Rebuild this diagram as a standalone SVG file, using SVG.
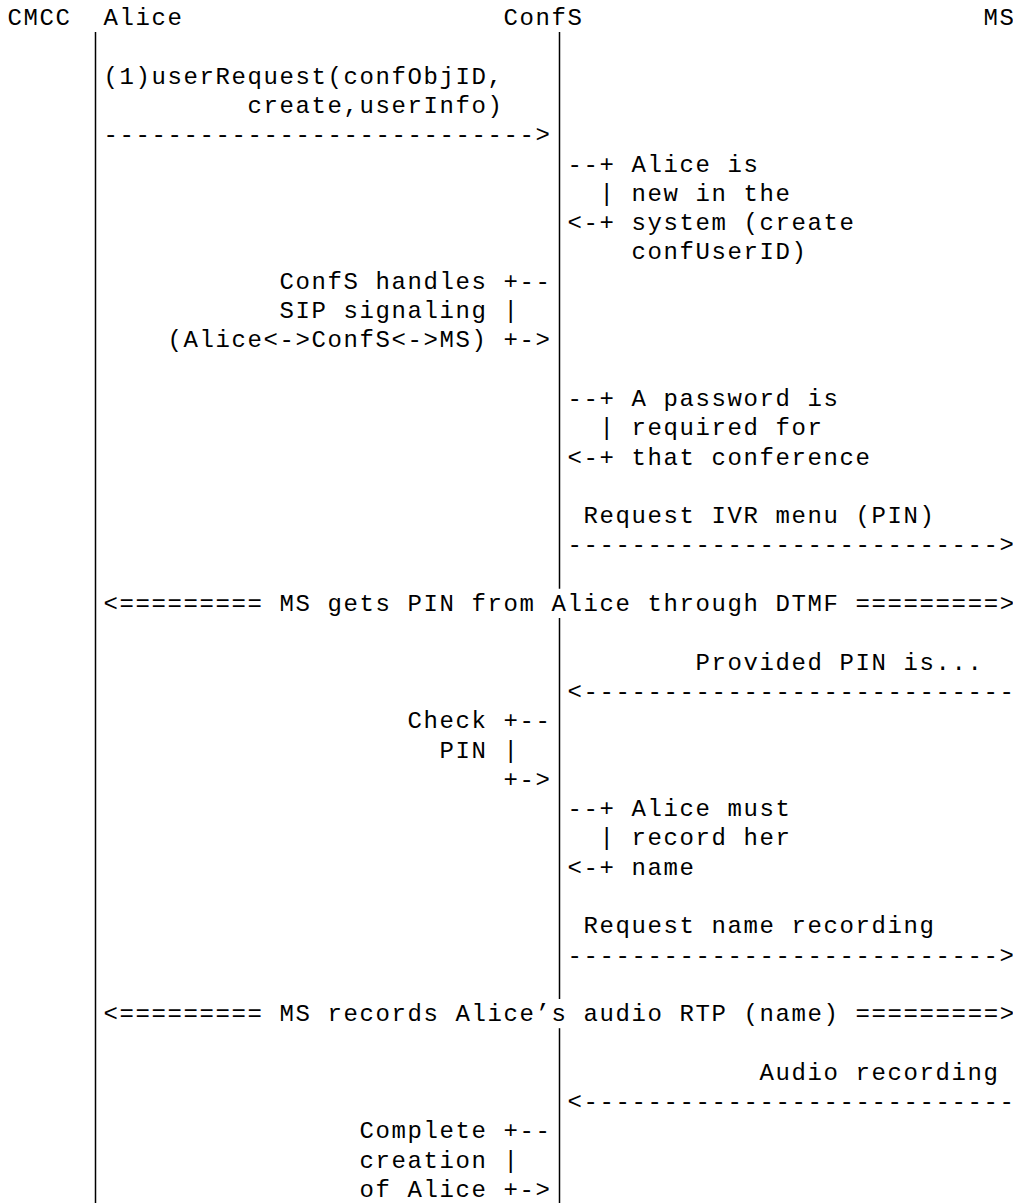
<svg xmlns="http://www.w3.org/2000/svg" width="1013" height="1203" viewBox="0 0 1013 1203" xml:space="preserve">
<style>
  text { font-family: "Liberation Mono", "DejaVu Sans Mono", monospace; font-size: 24px; letter-spacing: 1.6px; fill: #000; white-space: pre; }
  .life { stroke: #000; stroke-width: 1.5; fill: none; }
</style>
<rect x="0" y="0" width="1013" height="1203" fill="#ffffff"/>
<g id="participants">
  <g id="p-cmcc"><text x="7.5" y="25">CMCC</text></g>
  <g id="p-alice"><text x="103.5" y="25">Alice</text></g>
  <g id="p-confs"><text x="503.5" y="25">ConfS</text></g>
  <g id="p-ms"><text x="983.5" y="25">MS</text></g>
</g>
<g id="connectors">
  <line id="life-alice" class="life" x1="95.5" y1="32" x2="95.5" y2="1203"/>
  <line id="life-confs-1" class="life" x1="559.5" y1="32" x2="559.5" y2="588.7"/>
  <line id="life-confs-2" class="life" x1="559.5" y1="618" x2="559.5" y2="998.9"/>
  <line id="life-confs-3" class="life" x1="559.5" y1="1028.2" x2="559.5" y2="1203"/>
</g>
<g id="messages">
  <g id="m1-userRequest">
    <text x="103.5" y="83.6">(1)userRequest(confObjID,</text>
    <text x="247.5" y="112.9">create,userInfo)</text>
    <text x="103.5" y="142.2">---------------------------&gt;</text>
  </g>
  <g id="n1-new-user">
    <text x="567.5" y="171.5">--+ Alice is</text>
    <text x="599.5" y="200.8">| new in the</text>
    <text x="567.5" y="230.1">&lt;-+ system (create</text>
    <text x="631.5" y="259.4">confUserID)</text>
  </g>
  <g id="n2-sip">
    <text x="279.5" y="288.7">ConfS handles +--</text>
    <text x="279.5" y="318">SIP signaling |</text>
    <text x="167.5" y="347.3">(Alice&lt;-&gt;ConfS&lt;-&gt;MS) +-&gt;</text>
  </g>
  <g id="n3-password">
    <text x="567.5" y="405.9">--+ A password is</text>
    <text x="599.5" y="435.2">| required for</text>
    <text x="567.5" y="464.5">&lt;-+ that conference</text>
  </g>
  <g id="m2-ivr">
    <text x="583.5" y="523.1">Request IVR menu (PIN)</text>
    <text x="567.5" y="552.4">---------------------------&gt;</text>
  </g>
  <g id="m3-dtmf">
    <text x="103.5" y="611">&lt;========= MS gets PIN from Alice through DTMF =========&gt;</text>
  </g>
  <g id="m4-pin">
    <text x="695.5" y="669.6">Provided PIN is...</text>
    <text x="567.5" y="698.9">&lt;---------------------------</text>
  </g>
  <g id="n4-check">
    <text x="407.5" y="728.2">Check +--</text>
    <text x="439.5" y="757.5">PIN |</text>
    <text x="503.5" y="786.8">+-&gt;</text>
  </g>
  <g id="n5-record">
    <text x="567.5" y="816.1">--+ Alice must</text>
    <text x="599.5" y="845.4">| record her</text>
    <text x="567.5" y="874.7">&lt;-+ name</text>
  </g>
  <g id="m5-name-request">
    <text x="583.5" y="933.3">Request name recording</text>
    <text x="567.5" y="962.6">---------------------------&gt;</text>
  </g>
  <g id="m6-rtp">
    <text x="103.5" y="1021.2">&lt;========= MS records Alice’s audio RTP (name) =========&gt;</text>
  </g>
  <g id="m7-audio">
    <text x="759.5" y="1079.8">Audio recording</text>
    <text x="567.5" y="1109.1">&lt;---------------------------</text>
  </g>
  <g id="n6-complete">
    <text x="359.5" y="1138.4">Complete +--</text>
    <text x="359.5" y="1167.7">creation |</text>
    <text x="359.5" y="1197">of Alice +-&gt;</text>
  </g>
</g>
</svg>
